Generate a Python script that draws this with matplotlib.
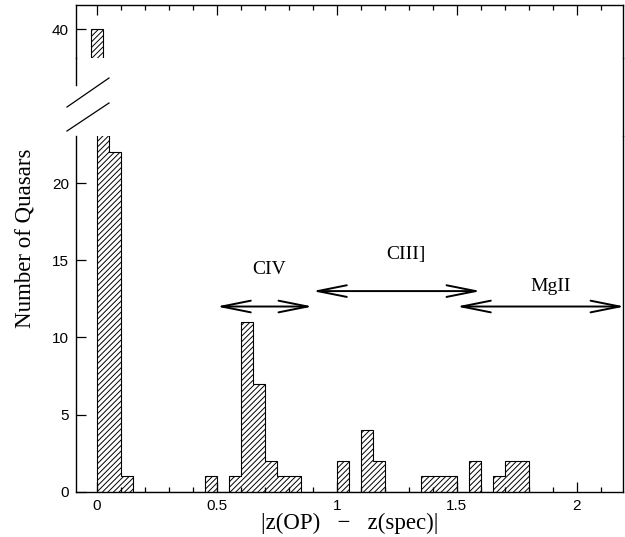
import numpy as np
import matplotlib
matplotlib.use("Agg")
import matplotlib.pyplot as plt
from matplotlib.lines import Line2D
from matplotlib.ticker import MultipleLocator

# histogram of |z(OP) - z(spec)|, bin width 0.05
bin_edges = np.round(np.arange(0.0, 1.80001, 0.05), 2)
counts = [40, 22, 1, 0, 0, 0, 0, 0, 0, 1,
          0, 1, 11, 7, 2, 1, 1, 0, 0, 0,
          2, 0, 4, 2, 0, 0, 0, 1, 1, 1,
          0, 2, 0, 1, 2, 2]

# tall first bin shown again in the upper (broken) panel
top_bar_x = 0.0
top_bar_height = 40
top_bar_width = 0.05

# emission-line ranges (label, x0, x1, arrow y, label x, label y)
lines_names = ["CIV", "CIII]", "MgII"]
lines_x0 = [0.5, 0.9, 1.5]
lines_x1 = [0.9, 1.6, 2.2]
lines_y = [12, 13, 12]
label_x = [0.72, 1.29, 1.89]
label_y = [14.4, 15.35, 13.3]

W, H = 625, 537
def fx(px):
    return px / W
def fy(py):
    return 1 - py / H

serif = "Liberation Serif"
sans = "Liberation Sans"
plt.rcParams["hatch.linewidth"] = 0.7

fig = plt.figure(figsize=(W / 100, H / 100), dpi=100)
ax = fig.add_axes([fx(76), fy(491.7), fx(623 - 76), (491.7 - 136) / H])
ax_top = fig.add_axes([fx(76), fy(58.3), fx(623 - 76), (58.3 - 5) / H])

xlim = (-0.086, 2.193)

# lower panel
ax.stairs(counts, bin_edges, fill=True, hatch="//////", facecolor="white",
          edgecolor="black", linewidth=0.8)
ax.set_xlim(*xlim)
ax.set_ylim(0, 23.05)
ax.spines["top"].set_visible(False)
ax.xaxis.set_major_locator(MultipleLocator(0.5))
ax.xaxis.set_minor_locator(MultipleLocator(0.1))
ax.yaxis.set_major_locator(MultipleLocator(5))
ax.set_xticks([0, 0.5, 1, 1.5, 2], ["0", "0.5", "1", "1.5", "2"])
ax.tick_params(axis="both", which="major", direction="in", length=7, width=0.9,
               labelsize=11, pad=5)
ax.tick_params(axis="x", which="minor", direction="in", length=3.5, width=0.9)
ax.tick_params(axis="y", right=False)
for lab in ax.get_xticklabels() + ax.get_yticklabels():
    lab.set_fontfamily(sans)

for name, x0, x1, y, tx, ty in zip(lines_names, lines_x0, lines_x1, lines_y,
                                   label_x, label_y):
    ax.annotate("", xy=(x1, y), xytext=(x0, y),
                arrowprops=dict(arrowstyle="<->,head_length=2.1,head_width=0.42",
                                mutation_scale=10, lw=1.4, color="black",
                                shrinkA=0, shrinkB=0),
                annotation_clip=False)
    ax.text(tx, ty, name, ha="center", va="center", fontsize=14,
            family=serif)

ax.set_xlabel("|z(OP)   \u2212   z(spec)|", fontsize=16.5, family=serif, labelpad=0)
fig.text(fx(25), fy(238), "Number of Quasars", rotation=90, ha="center",
         va="center", fontsize=16.5, family=serif)

# upper panel
ax_top.bar(top_bar_x, top_bar_height - 30, bottom=30, width=top_bar_width,
           hatch="//////", facecolor="white", edgecolor="black", linewidth=0.8)
ax_top.set_xlim(*xlim)
ax_top.set_ylim(38.1, 41.56)
ax_top.spines["bottom"].set_visible(False)
ax_top.set_yticks([40])
ax_top.xaxis.set_major_locator(MultipleLocator(0.5))
ax_top.xaxis.set_minor_locator(MultipleLocator(0.1))
ax_top.tick_params(axis="x", which="both", bottom=False, top=True,
                   labelbottom=False, direction="in")
ax_top.tick_params(axis="x", which="major", length=7, width=0.9)
ax_top.tick_params(axis="x", which="minor", length=3.5, width=0.9)
ax_top.tick_params(axis="y", direction="in", length=7, width=0.9,
                   labelsize=11, pad=5)
for lab in ax_top.get_yticklabels():
    lab.set_fontfamily(sans)

for a in (ax, ax_top):
    for s in a.spines.values():
        s.set_linewidth(1.0)

# spine pieces across the gap and the break marks
fig.add_artist(Line2D([fx(76), fx(76)], [fy(58.3), fy(85)], color="black", lw=1.0))
fig.add_artist(Line2D([fx(622.5), fx(622.5)], [fy(58.3), fy(136)], color="black", lw=1.0))
fig.add_artist(Line2D([fx(67), fx(109)], [fy(107), fy(78)], color="black", lw=0.9))
fig.add_artist(Line2D([fx(67), fx(109)], [fy(131), fy(103)], color="black", lw=0.9))

fig.savefig("out.png", dpi=100)
